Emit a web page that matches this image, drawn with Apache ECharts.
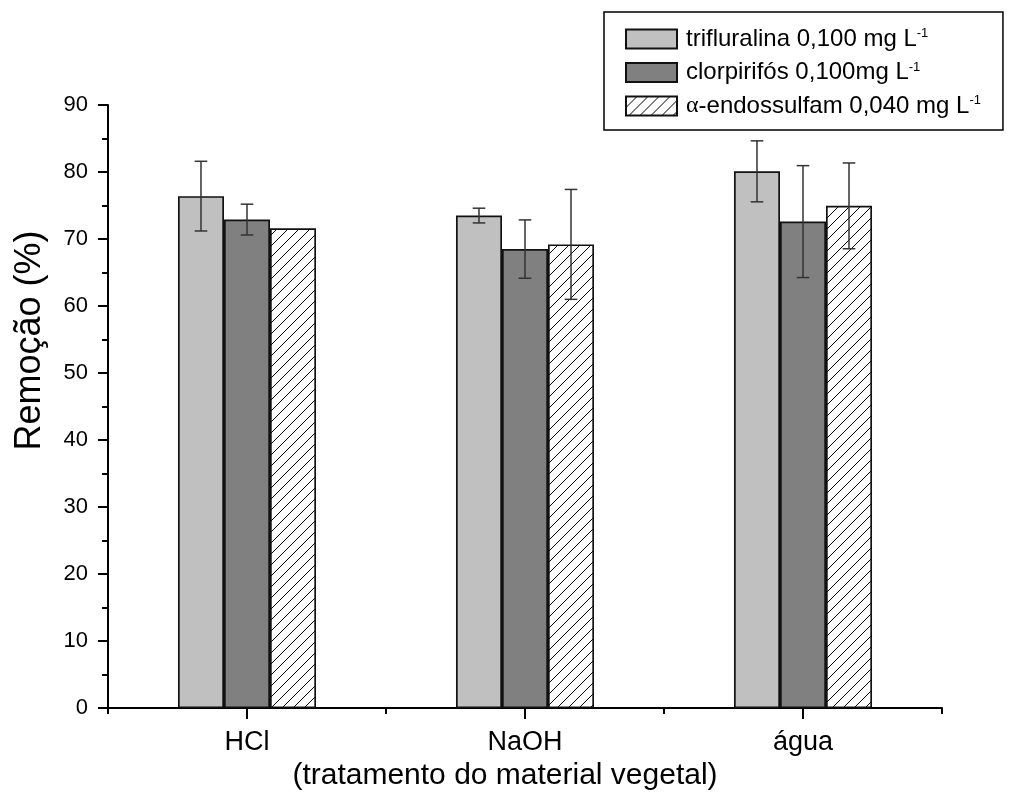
<!DOCTYPE html>
<html>
<head>
<meta charset="utf-8">
<script src="https://cdn.jsdelivr.net/npm/echarts@6/dist/echarts.min.js"></script>
<style>
  html, body { margin: 0; padding: 0; background: #fff; }
  #chart { width: 1009px; height: 796px; }
</style>
</head>
<body>
<div id="chart"></div>
<script>
// Pesticide removal (%) by plant-material treatment, mean ± error
const categories = ['HCl', 'NaOH', 'água'];

const trifluralina    = [76.4, 73.5, 80.1];
const trifluralinaErr = [5.2, 1.1, 4.55];

const clorpirifos     = [72.9, 68.5, 72.6];
const clorpirifosErr  = [2.3, 4.35, 8.35];

const endossulfam     = [71.6, 69.2, 74.95];
const endossulfamErr  = [null, 8.2, 6.4];

const yMin = 0, yMax = 90, yStep = 10;

const seriesNames = ['trifluralina', 'clorpirifos', 'endossulfam'];
const legendText = {
  trifluralina: '{a|trifluralina 0,100 mg L}{s|-1}',
  clorpirifos:  '{a|clorpirifós 0,100mg L}{s|-1}',
  endossulfam:  '{g|α}{b|-endossulfam 0,040 mg L}{s|-1}'
};

const FONT = '"Liberation Sans", Arial, Helvetica, sans-serif';
const BAR_FRAC = 0.1655;   // bar width as a fraction of the category band

// diagonal "/" hatch used for the third series
function hatchPattern() {
  const s = 11;
  const c = document.createElement('canvas');
  c.width = s; c.height = s;
  const g = c.getContext('2d');
  g.fillStyle = '#fff';
  g.fillRect(0, 0, s, s);
  g.strokeStyle = '#000';
  g.lineWidth = 1;
  g.beginPath();
  g.moveTo(-1, s + 1); g.lineTo(s + 1, -1);
  g.moveTo(-1, 1);     g.lineTo(1, -1);
  g.moveTo(s - 1, s + 1); g.lineTo(s + 1, s - 1);
  g.stroke();
  return c;
}

function barSeries(name, values, fill) {
  return {
    name: name,
    type: 'bar',
    data: values,
    barWidth: (BAR_FRAC * 100) + '%',
    barGap: '0%',
    z: 2,
    itemStyle: { color: fill, borderColor: '#111', borderWidth: 1.7 }
  };
}

function errorSeries(idx, values, errs) {
  const rows = [];
  values.forEach(function (v, i) {
    if (errs[i] != null) rows.push([i, v - errs[i], v + errs[i]]);
  });
  return {
    name: 'erro-' + idx,
    type: 'custom',
    z: 5,
    encode: { x: 0, y: [1, 2] },
    data: rows,
    renderItem: function (params, api) {
      const band = api.size([1, 0])[0];
      const dx = (idx - 1) * band * BAR_FRAC;
      const lo = api.coord([api.value(0), api.value(1)]);
      const hi = api.coord([api.value(0), api.value(2)]);
      const x = lo[0] + dx;
      const cap = 6.3;
      const st = { stroke: '#333', lineWidth: 1.5 };
      return {
        type: 'group',
        children: [
          { type: 'line', shape: { x1: x, y1: hi[1], x2: x, y2: lo[1] }, style: st },
          { type: 'line', shape: { x1: x - cap, y1: hi[1], x2: x + cap, y2: hi[1] }, style: st },
          { type: 'line', shape: { x1: x - cap, y1: lo[1], x2: x + cap, y2: lo[1] }, style: st }
        ]
      };
    }
  };
}

const chart = echarts.init(document.getElementById('chart'), null, { renderer: 'canvas' });

chart.setOption({
  animation: false,
  backgroundColor: '#fff',
  textStyle: { fontFamily: FONT, color: '#000' },
  grid: { left: 108, right: 67, top: 105, bottom: 71, containLabel: false },
  legend: {
    data: seriesNames,
    orient: 'vertical',
    left: 604,
    top: 12,
    itemWidth: 51,
    itemHeight: 19,
    itemGap: 9.5,
    padding: [15, 22, 12, 21],
    borderColor: '#000',
    borderWidth: 1.5,
    icon: 'rect',
    formatter: function (name) { return legendText[name]; },
    textStyle: {
      color: '#000',
      rich: {
        a: { fontSize: 24, fontFamily: FONT, color: '#000', padding: [0, 0, 0, 4], verticalAlign: 'bottom' },
        b: { fontSize: 24, fontFamily: FONT, color: '#000', verticalAlign: 'bottom' },
        g: { fontSize: 24, fontFamily: '"Liberation Serif", "DejaVu Serif", serif', color: '#000', padding: [0, 0, 0, 4], verticalAlign: 'bottom' },
        s: { fontSize: 13, fontFamily: FONT, color: '#000', verticalAlign: 'top' }
      }
    }
  },
  xAxis: [
    {
      type: 'category',
      data: categories,
      position: 'bottom',
      boundaryGap: true,
      name: '(tratamento do material vegetal)',
      nameLocation: 'middle',
      nameGap: 42,
      nameTextStyle: { fontSize: 30, fontFamily: FONT, color: '#000', verticalAlign: 'top', padding: [0, 40, 0, 0] },
      axisLine: { show: true, lineStyle: { color: '#000', width: 2 } },
      axisTick: { show: true, alignWithLabel: true, length: 11, lineStyle: { color: '#000', width: 2 } },
      axisLabel: { fontSize: 27, fontFamily: FONT, color: '#000', margin: 21 },
      splitLine: { show: false }
    },
    {
      // boundary ticks between the groups
      type: 'value',
      position: 'bottom',
      min: 0,
      max: categories.length,
      interval: 1,
      axisLine: { show: false },
      axisTick: { show: true, length: 6, lineStyle: { color: '#000', width: 2 } },
      axisLabel: { show: false },
      splitLine: { show: false }
    }
  ],
  yAxis: {
    type: 'value',
    min: yMin,
    max: yMax,
    interval: yStep,
    name: 'Remoção (%)',
    nameLocation: 'middle',
    nameGap: 60,
    nameTextStyle: { fontSize: 36, fontFamily: FONT, color: '#000', padding: [0, 0, 0, 132] },
    axisLine: { show: true, lineStyle: { color: '#000', width: 2 } },
    axisTick: { show: true, length: 10, lineStyle: { color: '#000', width: 2 } },
    minorTick: { show: true, splitNumber: 2, length: 6, lineStyle: { color: '#000', width: 2 } },
    axisLabel: { fontSize: 22, fontFamily: FONT, color: '#000', margin: 20 },
    splitLine: { show: false },
    minorSplitLine: { show: false }
  },
  series: [
    barSeries('trifluralina', trifluralina, '#c0c0c0'),
    barSeries('clorpirifos', clorpirifos, '#808080'),
    barSeries('endossulfam', endossulfam, { image: hatchPattern(), repeat: 'repeat' }),
    errorSeries(0, trifluralina, trifluralinaErr),
    errorSeries(1, clorpirifos, clorpirifosErr),
    errorSeries(2, endossulfam, endossulfamErr)
  ]
});
</script>
</body>
</html>
